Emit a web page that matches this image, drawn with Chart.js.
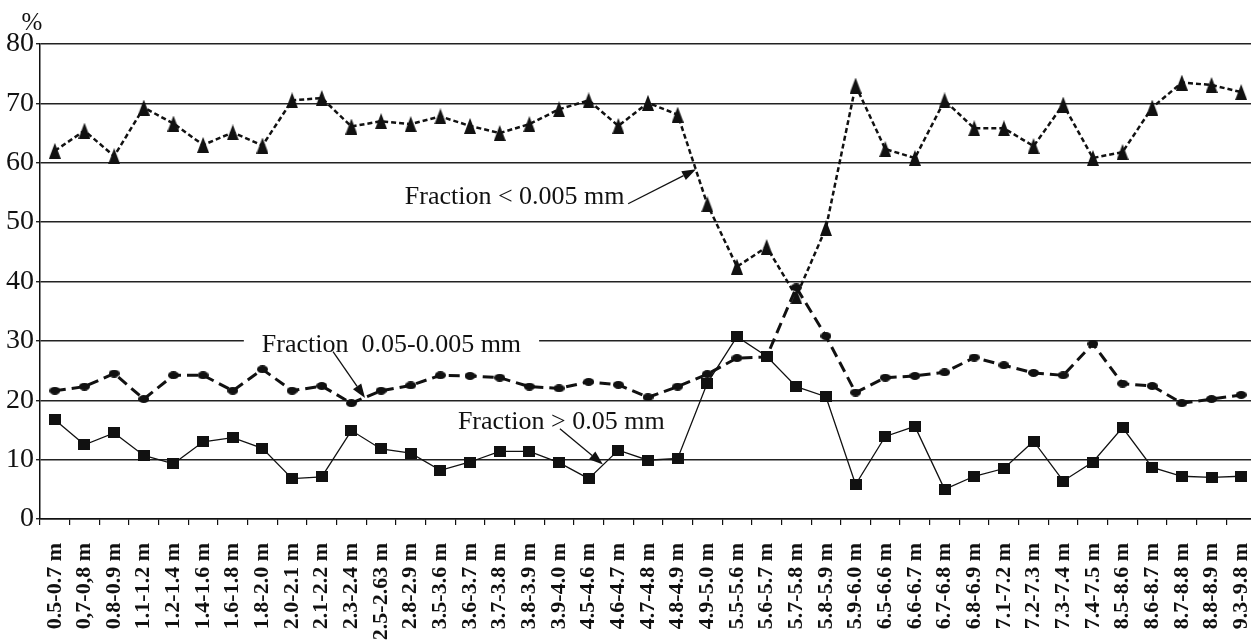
<!DOCTYPE html>
<html>
<head>
<meta charset="utf-8">
<script src="https://cdn.jsdelivr.net/npm/chart.js@4.4.1/dist/chart.umd.min.js"></script>
<style>
  html, body { margin: 0; padding: 0; background: #fff; overflow: hidden; }
  #wrap { position: relative; width: 1265px; height: 643px; }
</style>
</head>
<body>
<div id="wrap"><canvas id="fractionChart"></canvas></div>
<script>
// depth intervals
const depths = [
    '0.5-0.7 m', '0,7-0,8 m', '0.8-0.9 m', '1.1-1.2 m', '1.2-1.4 m', '1.4-1.6 m', '1.6-1.8 m',
    '1.8-2.0 m', '2.0-2.1 m', '2.1-2.2 m', '2.3-2.4 m', '2.5-2.63 m', '2.8-2.9 m', '3.5-3.6 m',
    '3.6-3.7 m', '3.7-3.8 m', '3.8-3.9 m', '3.9-4.0 m', '4.5-4.6 m', '4.6-4.7 m', '4.7-4.8 m',
    '4.8-4.9 m', '4.9-5.0 m', '5.5-5.6 m', '5.6-5.7 m', '5.7-5.8 m', '5.8-5.9 m', '5.9-6.0 m',
    '6.5-6.6 m', '6.6-6.7 m', '6.7-6.8 m', '6.8-6.9 m', '7.1-7.2 m', '7.2-7.3 m', '7.3-7.4 m',
    '7.4-7.5 m', '8.5-8.6 m', '8.6-8.7 m', '8.7-8.8 m', '8.8-8.9 m', '9.3-9.8 m'
];

// fraction < 0.005 mm, %
const clay = [
    62.0, 65.4, 61.1, 69.3, 66.6, 63.0, 65.1, 62.9, 70.5, 70.9, 66.1, 67.0, 66.5, 67.8,
    66.2, 65.0, 66.5, 69.0, 70.5, 66.2, 70.1, 68.1, 53.0, 42.5, 45.8, 37.5, 49.0, 73.0,
    62.3, 60.8, 70.5, 65.8, 65.8, 62.8, 69.8, 60.8, 61.8, 69.3, 73.5, 73.1, 71.9
];

// fraction 0.05-0.005 mm, %
const silt = [
    21.6, 22.3, 24.5, 20.2, 24.2, 24.2, 21.6, 25.2, 21.6, 22.4, 19.5, 21.6, 22.5, 24.2,
    24.1, 23.8, 22.3, 22.0, 23.1, 22.6, 20.5, 22.3, 24.4, 27.1, 27.3, 39.0, 30.8, 21.3,
    23.8, 24.1, 24.7, 27.2, 25.9, 24.6, 24.2, 29.5, 22.8, 22.4, 19.5, 20.2, 20.9
];

// fraction > 0.05 mm, %
const sand = [
    16.7, 12.5, 14.5, 10.7, 9.3, 13.0, 13.7, 11.9, 6.8, 7.1, 14.9, 11.8, 11.1, 8.2,
    9.6, 11.4, 11.4, 9.5, 6.8, 11.6, 9.9, 10.2, 22.9, 30.7, 27.4, 22.3, 20.6, 5.8,
    13.9, 15.6, 5.0, 7.2, 8.5, 13.1, 6.4, 9.6, 15.4, 8.7, 7.2, 7.0, 7.2
];

const serif = 'Liberation Serif';

// small canvas markers
function marker(w, h, draw) {
    const c = document.createElement('canvas');
    c.width = w;
    c.height = h;
    const g = c.getContext('2d');
    g.fillStyle = '#111';
    draw(g, w, h);
    return c;
}
const triangle = marker(12, 16, (g, w, h) => {
    g.beginPath(); g.moveTo(w / 2, 0); g.lineTo(w, h); g.lineTo(0, h); g.closePath(); g.fill();
});
const dot = marker(11, 8, (g, w, h) => {
    g.beginPath(); g.ellipse(w / 2, h / 2, w / 2, h / 2, 0, 0, Math.PI * 2); g.fill();
});
const square = marker(12, 11, (g, w, h) => g.fillRect(0, 0, w, h));

// callouts, in [category index, value]
const notes = [
    { text: 'Fraction < 0.005 mm', at: [11.8, 53.1], from: [19.33, 53.1], to: [21.62, 58.9] },
    { text: 'Fraction  0.05-0.005 mm', at: [6.98, 28.2], from: [9.38, 28.2], to: [10.46, 20.4], clear: true },
    { text: 'Fraction > 0.05 mm', at: [13.59, 15.2], from: [17.03, 15.2], to: [18.48, 9.2] }
];

function px(chart, p) {
    return [chart.scales.x.getPixelForValue(p[0]), chart.scales.y.getPixelForValue(p[1])];
}

const callouts = {
    id: 'callouts',
    beforeDatasetsDraw(chart) {
        const ctx = chart.ctx;
        ctx.save();
        ctx.font = '26px "' + serif + '"';
        notes.filter(n => n.clear).forEach(n => {
            const [x, y] = px(chart, n.at);
            const w = ctx.measureText(n.text).width;
            ctx.fillStyle = '#fff';
            ctx.fillRect(x - 18, y - 20, w + 36, 24);
        });
        ctx.restore();
    },
    afterDatasetsDraw(chart) {
        const ctx = chart.ctx;
        const area = chart.chartArea;
        ctx.save();
        ctx.fillStyle = '#111';
        ctx.strokeStyle = '#111';
        ctx.font = '25px "' + serif + '"';
        ctx.textAlign = 'center';
        ctx.textBaseline = 'middle';
        ctx.fillText('%', area.left - 8, area.top - 21);

        ctx.font = '26px "' + serif + '"';
        ctx.textAlign = 'left';
        ctx.textBaseline = 'alphabetic';
        notes.forEach(n => {
            const [tx, ty] = px(chart, n.at);
            ctx.fillText(n.text, tx, ty);
            const [x0, y0] = px(chart, n.from);
            const [x1, y1] = px(chart, n.to);
            const a = Math.atan2(y1 - y0, x1 - x0);
            const len = 14, half = 5;
            const bx = x1 - Math.cos(a) * len, by = y1 - Math.sin(a) * len;
            ctx.lineWidth = 1.3;
            ctx.beginPath();
            ctx.moveTo(x0, y0);
            ctx.lineTo(bx, by);
            ctx.stroke();
            ctx.beginPath();
            ctx.moveTo(x1, y1);
            ctx.lineTo(bx - Math.sin(a) * half, by + Math.cos(a) * half);
            ctx.lineTo(bx + Math.sin(a) * half, by - Math.cos(a) * half);
            ctx.closePath();
            ctx.fill();
        });
        ctx.restore();
    }
};

const ctx = document.getElementById('fractionChart').getContext('2d');
new Chart(ctx, {
    type: 'line',
    data: {
        labels: depths,
        datasets: [{
            label: 'Fraction > 0.05 mm',
            data: sand,
            borderColor: '#111',
            borderWidth: 1.3,
            pointStyle: square,
            pointRadius: 6
        }, {
            label: 'Fraction 0.05-0.005 mm',
            data: silt,
            borderColor: '#111',
            borderWidth: 3,
            borderDash: [11, 6],
            pointStyle: dot,
            pointRadius: 6
        }, {
            label: 'Fraction < 0.005 mm',
            data: clay,
            borderColor: '#111',
            borderWidth: 2.5,
            borderDash: [5, 3],
            pointStyle: triangle,
            pointRadius: 6
        }]
    },
    options: {
        responsive: true,
        maintainAspectRatio: false,
        animation: false,
        devicePixelRatio: 1,
        layout: { padding: { top: 44, left: 0, right: 0, bottom: 0 } },
        plugins: {
            legend: { display: false },
            tooltip: { enabled: false }
        },
        elements: { line: { tension: 0, fill: false } },
        scales: {
            x: {
                offset: true,
                afterFit: s => {
                    s.height = 124;
                    s.paddingLeft = 0;
                    s.paddingRight = 0;
                },
                border: { color: '#111', width: 1.5 },
                grid: { offset: true, drawOnChartArea: false, tickLength: 6, color: '#111', lineWidth: 1.2 },
                ticks: {
                    autoSkip: false,
                    maxRotation: 90,
                    minRotation: 90,
                    padding: 18,
                    color: '#111',
                    font: { family: serif, size: 22, weight: 'bold' }
                }
            },
            y: {
                min: 0,
                max: 80,
                afterFit: s => {
                    s.width = 40;
                    s.paddingTop = 0;
                    s.paddingBottom = 0;
                },
                border: { color: '#111', width: 1.5 },
                grid: { color: '#222', lineWidth: 1.4, tickLength: 4 },
                ticks: {
                    stepSize: 10,
                    padding: 2,
                    color: '#111',
                    font: { family: serif, size: 28 }
                }
            }
        }
    },
    plugins: [callouts]
});
</script>
</body>
</html>
